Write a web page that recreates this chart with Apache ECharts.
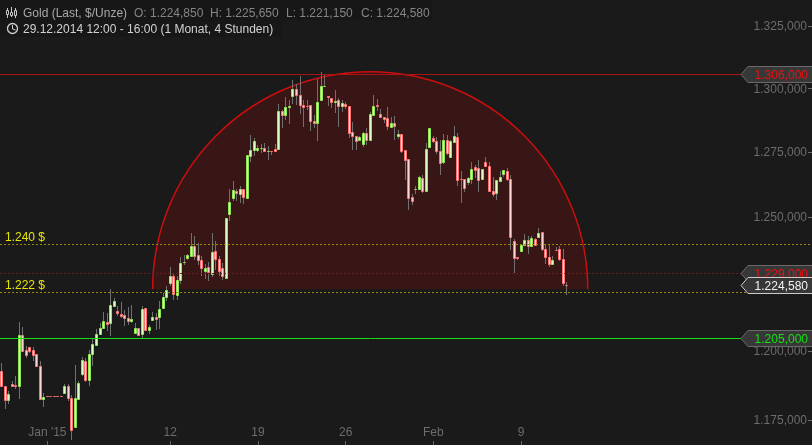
<!DOCTYPE html>
<html>
<head>
<meta charset="utf-8">
<style>html,body{margin:0;padding:0;background:#1a1a1a}#c{width:812px;height:445px}</style>
<script src="https://cdn.jsdelivr.net/npm/echarts@6/dist/echarts.min.js"></script>
</head>
<body>
<div id="c"></div>
<script>
const opens = [1193.1,1187.7,1182.6,1188.3,1188.0,1187.4,1206.3,1200.7,1201.7,1200.7,1199.3,1194.9,1182.7,
1183.9,1183.9,1183.9,1183.9,1183.9,1184.9,1187.7,1183.3,1172.8,1182.7,1192.0,1196.7,1189.9,1199.3,1202.6,1206.7,1208.6,
1211.0,1210.6,1217.0,1215.1,1214.1,1213.6,1212.5,1211.2,1207.1,1208.8,1206.4,1216.3,1207.9,1211.6,1212.9,1212.7,1216.0,1220.1,
1225.6,1228.2,1220.8,1226.4,1233.2,1234.7,1235.5,1239.5,1236.0,1234.2,1229.8,1231.4,1229.0,1237.6,1234.4,1231.1,1227.5,1251.7,
1257.8,1260.3,1259.0,1261.2,1257.8,1274.0,1276.3,1276.1,1276.8,1276.9,1275.6,1275.8,1276.6,1276.5,1291.3,1289.7,1293.1,1297.5,
1300.1,1297.6,1293.8,1293.4,1293.8,1287.6,1286.6,1295.6,1301.4,1297.5,1296.6,1295.1,1295.9,1293.3,1294.3,1293.5,1283.2,1281.7,
1279.9,1278.5,1282.8,1280.2,1289.7,1293.9,1290.4,1289.1,1288.8,1285.0,1286.8,1281.8,1282.5,1276.1,1272.6,1258.0,1261.1,1261.0,
1265.3,1260.5,1277.3,1280.8,1279.8,1275.7,1271.7,1280.0,1273.6,1279.2,1281.2,1265.0,1265.0,1263.9,1265.1,1269.5,1269.1,1264.8,
1271.6,1269.9,1260.4,1259.4,1264.3,1266.7,1268.0,1264.9,1241.4,1235.3,1237.3,1239.9,1241.6,1239.2,1242.0,1242.6,1244.6,1238.2,
1235.2,1232.4,1237.9,1238.2,1234.4,1224.85];
const closes = [1187.7,1182.4,1184.7,1187.4,1187.4,1206.3,1200.4,1199.0,1200.4,1198.9,1194.9,1182.9,1183.7,
1183.9,1183.9,1183.9,1183.9,1183.9,1187.7,1183.1,1171.8,1183.3,1188.8,1197.1,1189.9,1199.3,1203.0,1206.7,1208.8,1211.4,
1210.1,1217.4,1218.9,1214.2,1213.3,1212.3,1211.2,1212.1,1208.8,1206.3,1215.9,1207.9,1209.2,1212.8,1212.2,1215.8,1220.2,1222.8,
1228.2,1221.2,1226.7,1233.0,1233.4,1236.0,1239.5,1235.7,1233.9,1230.9,1231.1,1229.4,1237.1,1234.3,1230.1,1227.9,1249.9,1256.0,
1260.8,1259.4,1261.2,1258.0,1274.3,1276.1,1279.8,1276.9,1276.9,1275.6,1275.7,1275.7,1275.8,1291.3,1289.7,1293.0,1293.3,1300.1,
1297.6,1293.9,1292.9,1293.4,1287.4,1286.6,1295.0,1301.5,1301.5,1296.8,1294.8,1295.3,1293.3,1294.6,1293.3,1283.0,1281.5,1279.5,
1281.2,1282.8,1279.9,1290.4,1293.5,1293.6,1288.9,1288.4,1285.4,1286.7,1285.4,1282.4,1275.6,1272.1,1257.8,1256.3,1261.2,1265.7,
1260.3,1276.5,1284.8,1279.5,1275.9,1271.1,1280.0,1275.2,1279.6,1281.7,1264.7,1264.8,1261.3,1265.3,1268.8,1268.6,1264.6,1268.8,
1269.8,1260.4,1259.3,1264.6,1265.7,1268.4,1264.8,1242.6,1234.7,1234.7,1239.9,1241.6,1239.2,1242.4,1239.7,1244.3,1238.1,1235.2,
1232.4,1234.1,1237.8,1234.4,1225.3,1224.58];
const highs = [1196.0,1187.7,1185.6,1189.4,1191.3,1211.0,1209.2,1202.0,1201.7,1201.7,1199.3,1196.7,1185.0,
1183.9,1183.9,1183.9,1183.9,1183.9,1188.2,1188.2,1184.4,1195.3,1189.5,1198.3,1197.9,1200.7,1204.8,1208.4,1210.6,1214.5,
1214.3,1223.2,1219.9,1216.8,1218.4,1215.5,1216.5,1217.1,1210.6,1208.8,1216.8,1216.3,1210.0,1214.7,1214.3,1218.6,1221.9,1224.4,
1231.4,1229.3,1227.9,1235.2,1236.1,1236.5,1244.3,1243.2,1240.5,1235.7,1232.6,1233.3,1244.3,1241.4,1235.7,1233.0,1250.0,1261.1,
1264.0,1261.2,1262.1,1261.2,1274.3,1282.1,1280.8,1278.2,1278.5,1278.9,1277.8,1275.8,1278.6,1294.2,1292.0,1297.0,1295.9,1303.8,
1302.1,1305.3,1295.9,1295.9,1293.8,1290.0,1304.2,1306.8,1306.0,1297.5,1296.6,1299.8,1296.6,1295.9,1295.1,1293.5,1287.1,1281.7,
1281.7,1283.2,1284.8,1291.2,1297.9,1296.2,1292.3,1289.1,1293.0,1289.1,1289.3,1283.8,1282.5,1276.1,1272.6,1259.2,1262.1,1266.2,
1266.6,1278.9,1284.8,1281.5,1281.1,1280.2,1282.5,1282.1,1280.2,1285.7,1282.8,1268.1,1265.0,1265.7,1271.6,1270.4,1272.3,1268.8,
1273.5,1271.6,1265.7,1264.6,1268.2,1268.4,1269.0,1266.6,1242.1,1235.3,1240.2,1244.0,1243.0,1243.3,1242.4,1246.3,1244.6,1240.1,
1240.1,1235.7,1239.1,1239.2,1238.3,1225.65];
const lows = [1187.7,1179.3,1181.2,1187.2,1186.5,1183.0,1200.1,1197.7,1199.5,1196.7,1194.5,1182.6,1180.1,
1183.9,1183.9,1183.9,1183.9,1183.9,1184.9,1182.0,1168.2,1172.4,1182.7,1191.3,1189.2,1187.4,1194.9,1202.6,1206.3,1208.4,
1207.5,1205.9,1217.0,1213.1,1212.5,1209.6,1210.0,1210.6,1207.1,1205.7,1205.1,1207.5,1206.7,1211.6,1208.1,1208.4,1215.8,1218.6,
1224.4,1219.2,1219.2,1225.2,1232.1,1233.9,1235.2,1234.2,1232.3,1228.2,1226.8,1226.1,1227.7,1230.4,1228.2,1226.7,1227.5,1249.0,
1256.3,1256.3,1255.7,1255.4,1257.5,1271.7,1274.0,1275.3,1274.9,1275.3,1272.3,1274.3,1275.8,1276.5,1284.8,1288.0,1286.4,1294.2,
1293.9,1290.3,1285.3,1292.0,1283.4,1284.8,1279.8,1295.2,1301.1,1293.4,1292.6,1290.7,1285.0,1290.9,1292.1,1280.7,1276.2,1276.2,
1279.5,1277.5,1278.2,1280.2,1289.7,1291.3,1288.5,1286.7,1284.1,1284.8,1279.9,1280.4,1274.9,1264.4,1253.1,1255.0,1259.2,1261.0,
1259.5,1260.5,1277.3,1278.9,1274.6,1266.6,1270.8,1274.3,1273.6,1279.2,1262.4,1255.9,1259.8,1262.7,1263.1,1265.3,1260.1,1264.8,
1269.8,1260.4,1258.1,1257.0,1264.3,1265.8,1264.3,1238.0,1229.2,1233.9,1237.1,1239.9,1236.5,1239.0,1239.5,1242.6,1237.3,1232.7,
1231.6,1232.4,1237.8,1233.6,1224.2,1221.15];

const slotCount = 231;
const tickIndex = [13,48,73,98,123,148];
const tickLabels = ["Jan '15","12","19","26","Feb","9"];
const priceTicks = [1325,1300,1275,1250,1225,1200,1175];
const priceTickLabels = ["1.325,000","1.300,000","1.275,000","1.250,000","","1.200,000","1.175,000"];
const levelValues = [1306,1240,1229,1222,1205];
const levelLabels = ["","1.240 $","","1.222 $",""];
const tagValues = [1306,1229,1205,1224.58];
const tagLabels = ["1.306,000","1.229,000","1.205,000","1.224,580"];
const arcLeftIndex = 43, arcRightIndex = 167, arcBaseValue = 1223.1;
const axisMin = 1166.4, axisMax = 1335.9;

const levelStyle = [
  {stroke:'#a81414',lineDash:null},
  {stroke:'#9a8a10',lineDash:[2,2]},
  {stroke:'#6e1c1c',lineDash:[2,2]},
  {stroke:'#9a8a10',lineDash:[2,2]},
  {stroke:'#12e012',lineDash:null}
];
const levelEnd = [741,812,741,812,741];
const tagText = ['#ee1111','#ee1111','#14e014','#f2f2f2'];
const tagEdge = ['#6a6a6a','#6a6a6a','#6a6a6a','#cccccc'];
const tagTip = 741, tagHalf = 8;

const candleData = opens.map((o,i)=>[i,o,closes[i],highs[i],lows[i]]);
const categories = Array.from({length:slotCount},(_,i)=>{
  const k = tickIndex.indexOf(i); return k>=0?tickLabels[k]:String(i);
});
const isTick = i => tickIndex.includes(i);

function renderCandle(params,api){
  const i=api.value(0),o=api.value(1),c=api.value(2),h=api.value(3),l=api.value(4);
  const px=Math.round(api.coord([i,o])[0]-0.5);
  const yo=Math.round(api.coord([i,o])[1]),yc=Math.round(api.coord([i,c])[1]);
  const yh=Math.round(api.coord([i,h])[1]),yl=Math.round(api.coord([i,l])[1]);
  const up=c>o;
  const top=Math.min(yo,yc),bot=Math.max(yo,yc);
  return {type:'group',children:[
    {type:'line',shape:{x1:px+.5,y1:yh,x2:px+.5,y2:yl},style:{stroke:'#707070',lineWidth:1}},
    {type:'rect',shape:{x:px-.5,y:top+.5,width:2,height:Math.max(bot-top,0)},
     style:{fill:up?'#dcffc4':'#ffd4d4',stroke:up?'#8fe655':'#ff7070',lineWidth:1}}
  ]};
}
function renderArc(params,api){
  const a=api.coord([api.value(0),api.value(2)]),b=api.coord([api.value(1),api.value(2)]);
  const cx=(a[0]+b[0])/2,r=(b[0]-a[0])/2,cy=a[1];
  return {type:'group',children:[
    {type:'sector',shape:{cx,cy,r0:0,r,startAngle:Math.PI,endAngle:2*Math.PI},style:{fill:'#381616'}},
    {type:'arc',shape:{cx,cy,r,startAngle:Math.PI,endAngle:2*Math.PI},style:{stroke:'#cc0e0e',lineWidth:1.5,fill:null}}
  ]};
}
function renderLevel(params,api){
  const k=params.dataIndex;
  const y=Math.floor(api.coord([0,api.value(0)])[1])+.5;
  const kids=[{type:'line',shape:{x1:0,y1:y,x2:levelEnd[k],y2:y},style:Object.assign({lineWidth:1},levelStyle[k])}];
  if(levelLabels[k]) kids.push({type:'text',style:{x:5,y:y-6.5,text:levelLabels[k],fill:'#e6e600',font:'12px "Liberation Sans"',textVerticalAlign:'middle',textAlign:'left'}});
  return {type:'group',children:kids};
}
function renderPriceTick(params,api){
  const k=params.dataIndex;
  if(!priceTickLabels[k]) return null;
  const y=api.coord([0,api.value(0)])[1];
  return {type:'group',children:[
    {type:'text',style:{x:807,y:y,text:priceTickLabels[k],fill:'#6c6c6c',font:'12px "Liberation Sans"',textAlign:'right',textVerticalAlign:'middle'}},
    {type:'line',shape:{x1:808,y1:Math.round(y-1)+.5,x2:812,y2:Math.round(y-1)+.5},style:{stroke:'#6c6c6c',lineWidth:1}}
  ]};
}
function renderTag(params,api){
  const k=params.dataIndex;
  const y=Math.floor(api.coord([0,api.value(0)])[1])+.5;
  const L=tagTip,M=tagTip+7,R=813;
  return {type:'group',children:[
    {type:'polygon',shape:{points:[[L,y],[M,y-tagHalf],[R,y-tagHalf],[R,y+tagHalf],[M,y+tagHalf]]},
     style:{fill:'#373737',stroke:tagEdge[k],lineWidth:1}},
    {type:'text',style:{x:808,y:y+1.5,text:tagLabels[k],fill:tagText[k],font:'12px "Liberation Sans"',textAlign:'right',textVerticalAlign:'middle'}}
  ]};
}

const chart=echarts.init(document.getElementById('c'),null,{renderer:'canvas'});
const font='12px "Liberation Sans"';
function hdr(x,y,text,fill){return {type:'text',x:x,y:y,style:{text,fill,font,textVerticalAlign:'middle'},z:50,silent:true};}
function wick(x,y1,y2){return {type:'line',shape:{x1:x,y1,x2:x,y2},style:{stroke:'#c8c8c8',lineWidth:1},z:50,silent:true};}
function box(x,y,h){return {type:'rect',shape:{x:x-1,y,width:2,height:h},style:{fill:'#1a1a1a',stroke:'#c8c8c8',lineWidth:1},z:51,silent:true};}
chart.setOption({
  animation:false,
  backgroundColor:'#1a1a1a',
  tooltip:{show:false},
  grid:{left:-1.43,top:0,width:812,height:445,containLabel:false},
  xAxis:{type:'category',data:categories,boundaryGap:true,
    axisLine:{show:false,onZero:false},
    axisTick:{show:true,inside:true,length:4,alignWithLabel:true,interval:i=>isTick(i),lineStyle:{color:'#666'}},
    axisLabel:{inside:true,margin:6,color:'#6c6c6c',fontFamily:'Liberation Sans',fontSize:12,interval:i=>isTick(i),hideOverlap:false},
    splitLine:{show:false}},
  yAxis:{type:'log',logBase:10,min:axisMin,max:axisMax,show:false,axisLine:{onZero:false},splitLine:{show:false}},
  graphic:[
    {type:'rect',shape:{x:0,y:0,width:432,height:20},style:{fill:'#171717'},z:49,silent:true},
    {type:'rect',shape:{x:0,y:20,width:282,height:17},style:{fill:'#171717'},z:49,silent:true},
    wick(7.5,8,18),box(7.5,10.5,4),wick(11.5,7,17),box(11.5,12.5,3),wick(15.5,8,18),box(15.5,10.5,5),
    {type:'circle',shape:{cx:12.5,cy:28.5,r:5},style:{fill:'transparent',stroke:'#d0d0d0',lineWidth:1.3},z:50,silent:true},
    {type:'polyline',shape:{points:[[12.5,25],[12.5,29],[15.5,30]]},style:{fill:'transparent',stroke:'#d0d0d0',lineWidth:1},z:50,silent:true},
    hdr(23,13.5,'Gold (Last, $/Unze)','#a8a8a8'),
    hdr(134,13.5,'O: 1.224,850','#858585'),
    hdr(210,13.5,'H: 1.225,650','#858585'),
    hdr(286,13.5,'L: 1.221,150','#858585'),
    hdr(361,13.5,'C: 1.224,580','#858585'),
    hdr(23,29.5,'29.12.2014 12:00 - 16:00 (1 Monat, 4 Stunden)','#d2d2d2')
  ],
  series:[
    {type:'custom',silent:true,z:1,coordinateSystem:'cartesian2d',renderItem:renderArc,clip:false,
     data:[[arcLeftIndex,arcRightIndex,arcBaseValue]],encode:{x:[0,1],y:2}},
    {type:'custom',silent:true,z:2,coordinateSystem:'cartesian2d',renderItem:renderPriceTick,
     data:priceTicks.map(v=>[v]),encode:{y:0}},
    {type:'custom',silent:true,z:3,coordinateSystem:'cartesian2d',renderItem:renderCandle,
     data:candleData,encode:{x:0,y:[1,2,3,4]}},
    {type:'custom',silent:true,z:4,coordinateSystem:'cartesian2d',renderItem:renderLevel,
     data:levelValues.map(v=>[v]),encode:{y:0}},
    {type:'custom',silent:true,z:5,coordinateSystem:'cartesian2d',renderItem:renderTag,
     data:tagValues.map(v=>[v]),encode:{y:0}}
  ]
});
</script>
</body>
</html>
